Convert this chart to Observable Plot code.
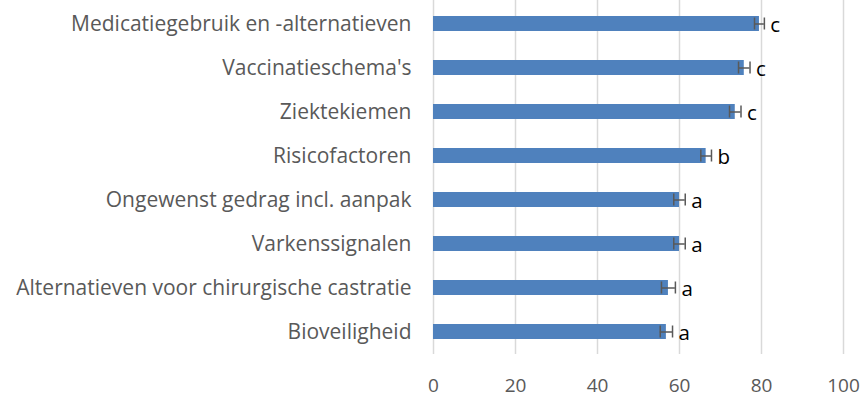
<!DOCTYPE html>
<html>
<head>
<meta charset="utf-8">
<script src="https://cdn.jsdelivr.net/npm/d3@7"></script>
<script src="https://cdn.jsdelivr.net/npm/@observablehq/plot@0.6"></script>
<style>
  html, body { margin: 0; padding: 0; background: #fff; }
  #chart { width: 866px; height: 400px; }
</style>
</head>
<body>
<div id="chart"></div>
<script>
const categories = [
  "Medicatiegebruik en -alternatieven",
  "Vaccinatieschema's",
  "Ziektekiemen",
  "Risicofactoren",
  "Ongewenst gedrag incl. aanpak",
  "Varkenssignalen",
  "Alternatieven voor chirurgische castratie",
  "Bioveiligheid"
];
const values = [79.5, 75.8, 73.6, 66.5, 60.0, 60.0, 57.3, 56.8];
const errors = [1.2, 1.4, 1.4, 1.3, 1.4, 1.4, 1.7, 1.5];
const letters = ["c", "c", "c", "b", "a", "a", "a", "a"];
const xTicks = [0, 20, 40, 60, 80, 100];

const data = categories.map((c, i) => ({
  cat: c, value: values[i], lo: values[i] - errors[i], hi: values[i] + errors[i], letter: letters[i]
}));

const chart = Plot.plot({
  width: 866,
  height: 400,
  marginTop: 0,
  marginBottom: 46,
  marginLeft: 433,
  marginRight: 23,
  style: { fontFamily: "'Open Sans', sans-serif", background: "#fff" },
  x: { domain: [0, 100], ticks: xTicks, label: null },
  y: { domain: categories, paddingInner: 0.66, paddingOuter: 0.33, label: null },
  marks: [
    Plot.gridX(xTicks, { stroke: "#d9d9d9", strokeOpacity: 1, strokeWidth: 1.5 }),
    Plot.barX(data, { y: "cat", x: "value", fill: "#4f81bd" }),
    Plot.ruleY(data, { y: "cat", x1: "lo", x2: "hi", stroke: "#595959", strokeWidth: 1.5 }),
    Plot.tickX(data, { y: "cat", x: "lo", stroke: "#595959", strokeWidth: 1.5, insetTop: 1.5, insetBottom: 1.5 }),
    Plot.tickX(data, { y: "cat", x: "hi", stroke: "#595959", strokeWidth: 1.5, insetTop: 1.5, insetBottom: 1.5 }),
    Plot.text(data, { y: "cat", x: "hi", text: "letter", textAnchor: "start", dx: 6, dy: 1, fontSize: 20.5, fill: "#000" }),
    Plot.axisX(xTicks, { tickSize: 0, tickPadding: 24, fontSize: 19, fill: "#595959", label: null }),
    Plot.axisY({ tickSize: 0, tickPadding: 22, fontSize: 21, fill: "#595959", label: null })
  ]
});
document.getElementById("chart").appendChild(chart);
</script>
</body>
</html>
